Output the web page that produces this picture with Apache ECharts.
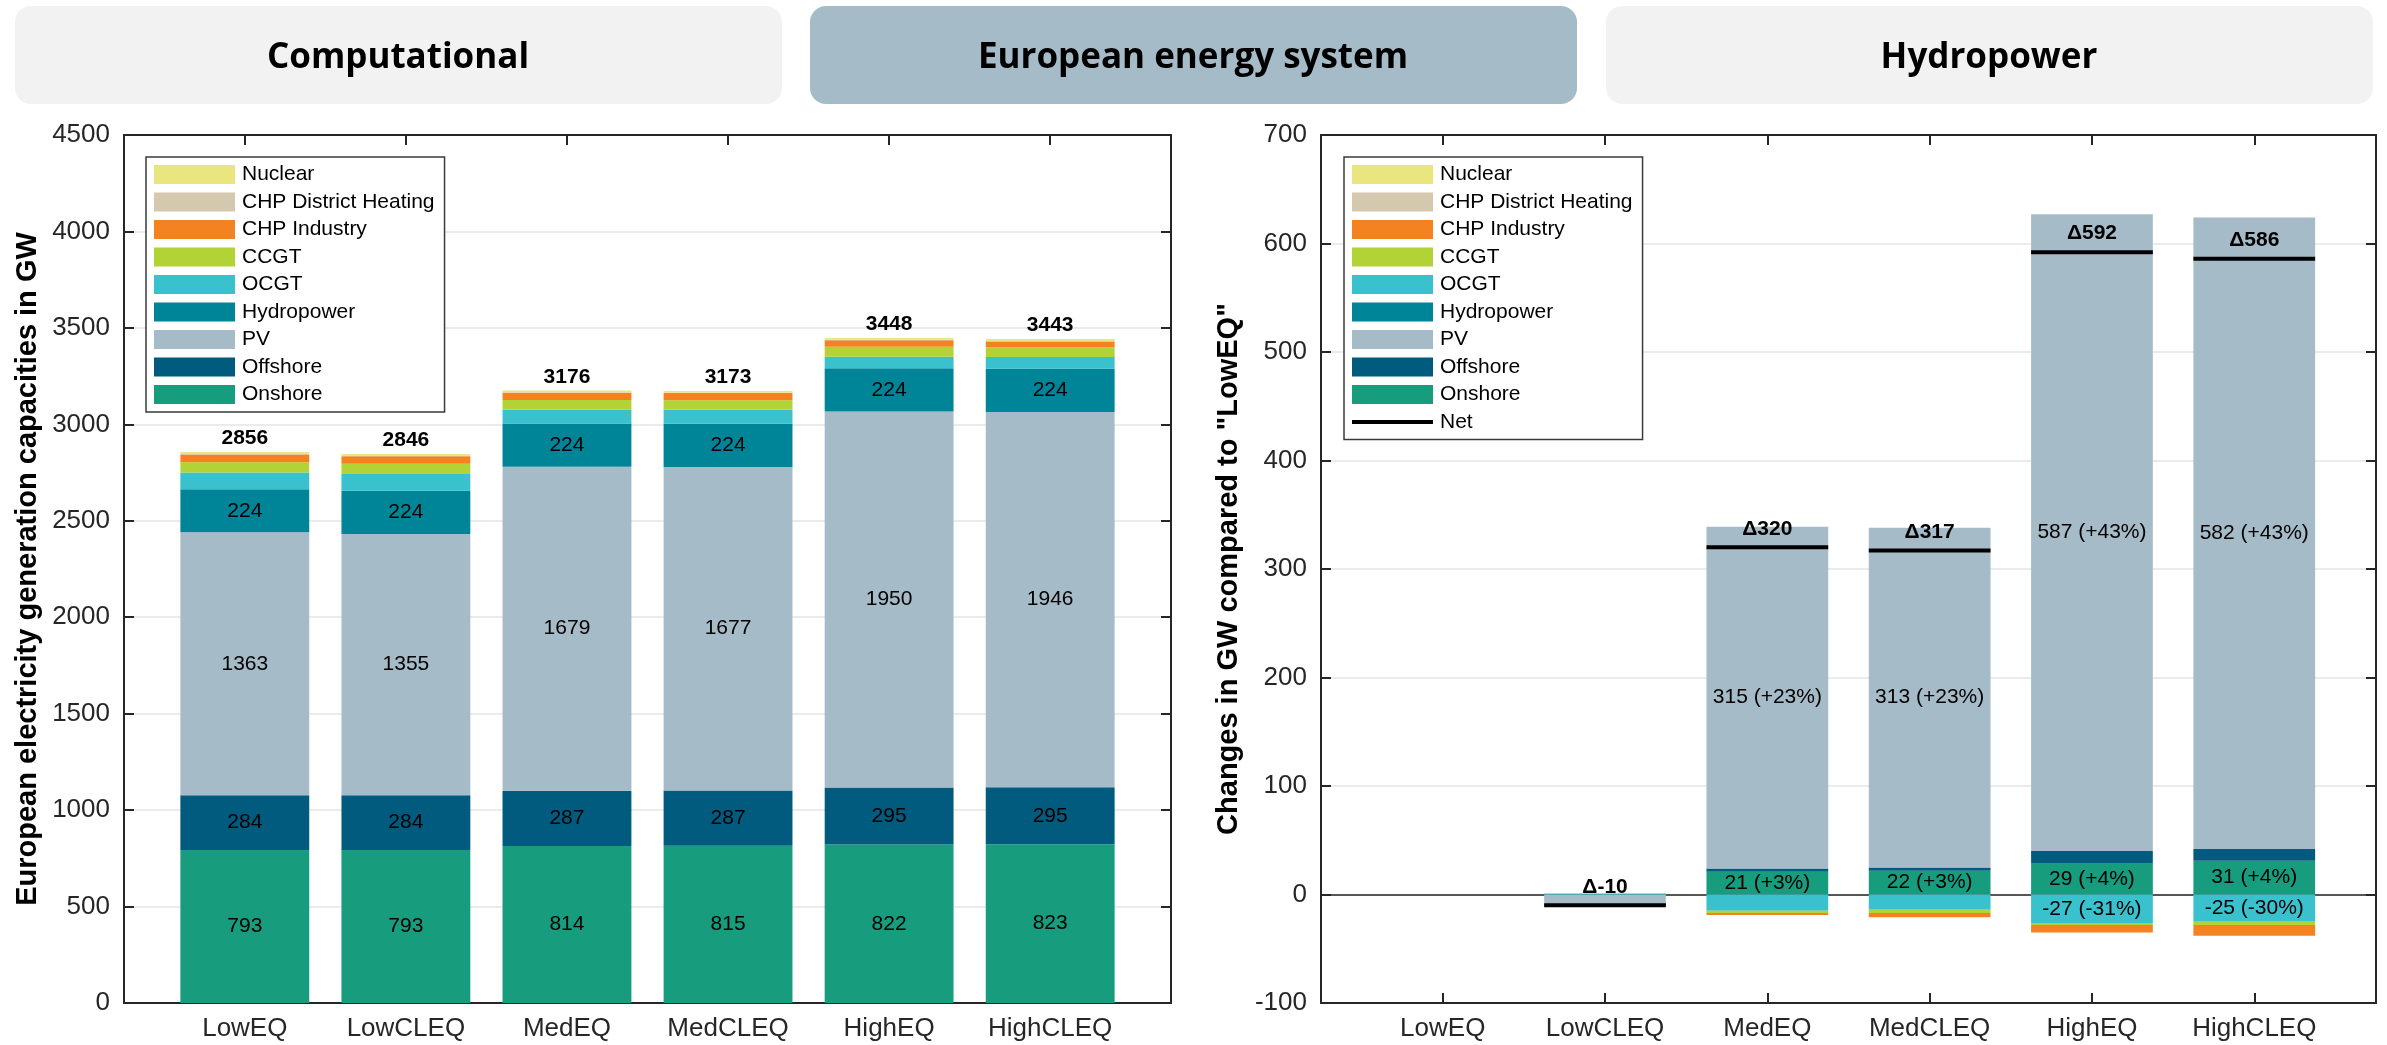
<!DOCTYPE html>
<html>
<head>
<meta charset="utf-8">
<script src="https://cdn.jsdelivr.net/npm/echarts@6/dist/echarts.min.js"></script>
<style>
  html, body { margin: 0; padding: 0; background: #fff; }
  #chart { width: 2387px; height: 1045px; }
</style>
</head>
<body>
<div id="chart"></div>
<script>
// Scenarios on the x axis
const scenarios = ['LowEQ', 'LowCLEQ', 'MedEQ', 'MedCLEQ', 'HighEQ', 'HighCLEQ'];

// Technologies, bottom of the stack first
const technologies = ['Onshore', 'Offshore', 'PV', 'Hydropower', 'OCGT', 'CCGT',
  'CHP Industry', 'CHP District Heating', 'Nuclear'];
const techColors = ['#179c7d', '#005b7f', '#a6bbc8', '#008598', '#39c1cd', '#b2d235',
  '#f58220', '#d4c8ae', '#e9e57f'];

// Installed generation capacity per scenario (GW)
const onshore = [793, 793, 814, 815, 822, 823];
const offshore = [284, 284, 287, 287, 295, 295];
const pv = [1363, 1355, 1679, 1677, 1950, 1946];
const hydropower = [224, 224, 224, 224, 224, 224];
const ocgt = [86, 87, 71, 72, 59, 61];
const ccgt = [53, 53, 51, 50, 52, 50];
const chpIndustry = [41, 38, 38, 37, 34, 31];
const chpDistrictHeating = [2, 2, 2, 2, 2, 2];
const nuclear = [10, 10, 10, 9, 10, 11];

// Change per technology relative to LowEQ (GW)
const dOnshore = [0, 0, 21, 22, 29, 31];
const dOffshore = [0, 0, 3, 3, 11, 11];
const dPv = [0, -8, 315, 313, 587, 582];
const dHydropower = [0, 0, 0, 0, 0, 0];
const dOcgt = [0, 1, -15, -14, -27, -25];
const dCcgt = [0, 0, -2, -3, -1, -3];
const dChpIndustry = [0, -3, -2, -4, -7, -10];
const dChpDistrictHeating = [0, 0, 0, 0, 0, 0];
const dNuclear = [0, 0, 0, 0, 0, 0];
const dNet = [null, -10, 320, 317, 592, 586];

// Relative change printed beside the larger deltas (%)
const pctOnshore = [null, null, 3, 3, 4, 4];
const pctPv = [null, null, 23, 23, 43, 43];
const pctOcgt = [null, null, null, null, -31, -30];

// Value axis ranges
const capAxis = { min: 0, max: 4500, interval: 500 };
const deltaAxis = { min: -100, max: 700, interval: 100 };

const headers = ['Computational', 'European energy system', 'Hydropower'];

const capacity = [onshore, offshore, pv, hydropower, ocgt, ccgt, chpIndustry, chpDistrictHeating, nuclear];
const change = [dOnshore, dOffshore, dPv, dHydropower, dOcgt, dCcgt, dChpIndustry, dChpDistrictHeating, dNuclear];
const changePct = { 'Onshore': pctOnshore, 'PV': pctPv, 'OCGT': pctOcgt };
const totals = scenarios.map((_, i) => capacity.reduce((s, arr) => s + arr[i], 0));

const FONT = '"Liberation Sans", Arial, Helvetica, sans-serif';
const AXIS_COLOR = '#262626';
const catPositions = scenarios.map((_, i) => i + 1);

// Frame: axes box spans half a slot more than the bar band on each side
const X_MIN = 0.25, X_MAX = 6.75;
const frames = [
  { left: 124, top: 135, width: 1047, height: 868 },
  { left: 1321, top: 135, width: 1055, height: 868 }
];
function bandGrid(f) {
  const slot = f.width / (X_MAX - X_MIN);
  return { left: f.left + (0.5 - X_MIN) * slot, top: f.top, width: slot * scenarios.length, height: f.height };
}

const lineStyle = { color: AXIS_COLOR, width: 2 };
const hidden = { show: false };

function frameXAxes(gridIndex) {
  const base = {
    type: 'value', gridIndex, min: X_MIN, max: X_MAX,
    splitLine: hidden,
    axisLine: { show: true, onZero: false, lineStyle },
    axisTick: { show: true, inside: true, length: 10, customValues: catPositions, lineStyle }
  };
  return [
    Object.assign({}, base, {
      position: 'bottom',
      axisLabel: { show: true, customValues: catPositions, formatter: v => scenarios[Math.round(v) - 1] || '',
        fontFamily: FONT, fontSize: 26, color: AXIS_COLOR, margin: 13 }
    }),
    Object.assign({}, base, { position: 'top', axisLabel: hidden })
  ];
}

function frameYAxes(gridIndex, range, name, nameGap) {
  const tick = { show: true, inside: true, length: 10, lineStyle };
  const line = { show: true, onZero: false, lineStyle };
  return [
    {
      type: 'value', gridIndex, position: 'left', min: range.min, max: range.max, interval: range.interval,
      name, nameLocation: 'middle', nameRotate: 90, nameGap,
      nameTextStyle: { fontFamily: FONT, fontSize: 29, fontWeight: 'bold', color: '#000' },
      axisLine: line, axisTick: tick,
      axisLabel: { fontFamily: FONT, fontSize: 26, color: AXIS_COLOR, margin: 14, formatter: v => String(v) },
      splitLine: { show: true, lineStyle: { color: '#e4e4e4', width: 1.5 } }
    },
    {
      type: 'value', gridIndex, position: 'right', min: range.min, max: range.max, interval: range.interval,
      axisLine: line, axisTick: tick, axisLabel: hidden, splitLine: hidden
    }
  ];
}

function bandXAxis(gridIndex) {
  return { type: 'category', gridIndex, data: scenarios, boundaryGap: true,
    axisLine: hidden, axisTick: hidden, axisLabel: hidden, splitLine: hidden };
}
function bandYAxis(gridIndex, range) {
  return { type: 'value', gridIndex, min: range.min, max: range.max, interval: range.interval,
    axisLine: hidden, axisTick: hidden, axisLabel: hidden, splitLine: hidden };
}

// grids: 0 left frame, 1 left bars, 2 right frame, 3 right bars
const grids = [frames[0], bandGrid(frames[0]), frames[1], bandGrid(frames[1])];

const xAxes = [].concat(
  frameXAxes(0),            // 0, 1
  [bandXAxis(1)],           // 2
  frameXAxes(2),            // 3, 4
  [bandXAxis(3)],           // 5
  [{                        // 6: zero line of the change panel
    type: 'value', gridIndex: 2, position: 'bottom', min: X_MIN, max: X_MAX,
    axisLine: { show: true, onZero: true, onZeroAxisIndex: 3, lineStyle: { color: AXIS_COLOR, width: 1.5 } },
    axisTick: hidden, axisLabel: hidden, splitLine: hidden
  }]
);
const yAxes = [].concat(
  frameYAxes(0, capAxis, 'European electricity generation capacities in GW', 82), // 0, 1
  [bandYAxis(1, capAxis)],                                                         // 2
  frameYAxes(2, deltaAxis, 'Changes in GW compared to "LowEQ"', 78),              // 3, 4
  [bandYAxis(3, deltaAxis)]                                                        // 5
);

const series = [];

// Left: stacked capacities
technologies.forEach((name, k) => {
  const isTop = k === technologies.length - 1;
  series.push({
    name, type: 'bar', xAxisIndex: 2, yAxisIndex: 2, stack: 'capacity', barWidth: '80%',
    itemStyle: { color: techColors[k] },
    emphasis: { disabled: true },
    data: capacity[k],
    label: isTop ? {
      show: true, position: 'top', distance: 3, fontFamily: FONT, fontSize: 21, fontWeight: 'bold', color: '#000',
      formatter: p => String(totals[p.dataIndex])
    } : {
      show: true, position: 'inside', fontFamily: FONT, fontSize: 21, color: '#000',
      formatter: p => (p.value >= 200 ? String(p.value) : '')
    }
  });
});

// Right: stacked changes relative to LowEQ
technologies.forEach((name, k) => {
  const pct = changePct[name];
  series.push({
    name, type: 'bar', xAxisIndex: 5, yAxisIndex: 5, stack: 'delta', barWidth: '75%',
    itemStyle: { color: techColors[k] },
    emphasis: { disabled: true },
    data: change[k],
    label: {
      show: !!pct, position: 'inside', fontFamily: FONT, fontSize: 21, color: '#000',
      formatter: p => {
        const v = p.value;
        const r = pct ? pct[p.dataIndex] : null;
        if (Math.abs(v) < 20 || r === null) return '';
        return v + ' (' + (r >= 0 ? '+' : '') + r + '%)';
      }
    }
  });
});

// Net change: thick line across the bar with a Δ label
series.push({
  name: 'Net', type: 'custom', xAxisIndex: 5, yAxisIndex: 5, z: 5,
  itemStyle: { color: '#000' },
  data: dNet.map((v, i) => (v === null ? null : [i, v])).filter(Boolean),
  renderItem: (params, api) => {
    const x = api.value(0), v = api.value(1);
    const p = api.coord([x, v]);
    const half = api.size([1, 0])[0] * 0.75 / 2;
    return {
      type: 'group',
      children: [
        { type: 'line', shape: { x1: p[0] - half, y1: p[1], x2: p[0] + half, y2: p[1] },
          style: { stroke: '#000', lineWidth: 4 } },
        { type: 'text', x: p[0], y: p[1] - 8,
          style: { text: '\u0394' + v, fill: '#000', font: 'bold 21px ' + FONT,
                   align: 'center', verticalAlign: 'bottom' } }
      ]
    };
  }
});

const legendNames = technologies.slice().reverse();
function legendAt(left, withNet) {
  const data = legendNames.map(n => ({ name: n, icon: 'rect' }));
  if (withNet) data.push({ name: 'Net', icon: 'path://M0 0H100V5H0Z' });
  return {
    orient: 'vertical', left, top: 157, data,
    itemWidth: 81, itemHeight: 19, itemGap: 6.5,
    padding: [7, 10, 7, 8],
    backgroundColor: '#fff', borderColor: '#3a3a3a', borderWidth: 1.5, borderRadius: 0,
    selectedMode: false,
    textStyle: { fontFamily: FONT, fontSize: 21, color: '#000', padding: [0, 0, 0, 2] }
  };
}

const headerLeft = [15, 810, 1606];
const headerFill = ['#f2f2f2', '#a6bbc8', '#f2f2f2'];

const option = {
  animation: false,
  backgroundColor: '#fff',
  graphic: headers.map((t, i) => ({
    type: 'group', left: headerLeft[i], top: 6,
    children: [
      { type: 'rect', shape: { x: 0, y: 0, width: 767, height: 98, r: 16 }, style: { fill: headerFill[i] } },
      { type: 'text', x: 383, y: 52,
        style: { text: t, font: 'bold 35px "Open Sans", "Noto Sans", sans-serif', fill: '#000',
                 align: 'center', verticalAlign: 'middle' } }
    ]
  })),
  grid: grids,
  xAxis: xAxes,
  yAxis: yAxes,
  legend: [legendAt(146, false), legendAt(1344, true)],
  series
};

const chart = echarts.init(document.getElementById('chart'), null, { renderer: 'canvas' });
chart.setOption(option);
</script>
</body>
</html>
